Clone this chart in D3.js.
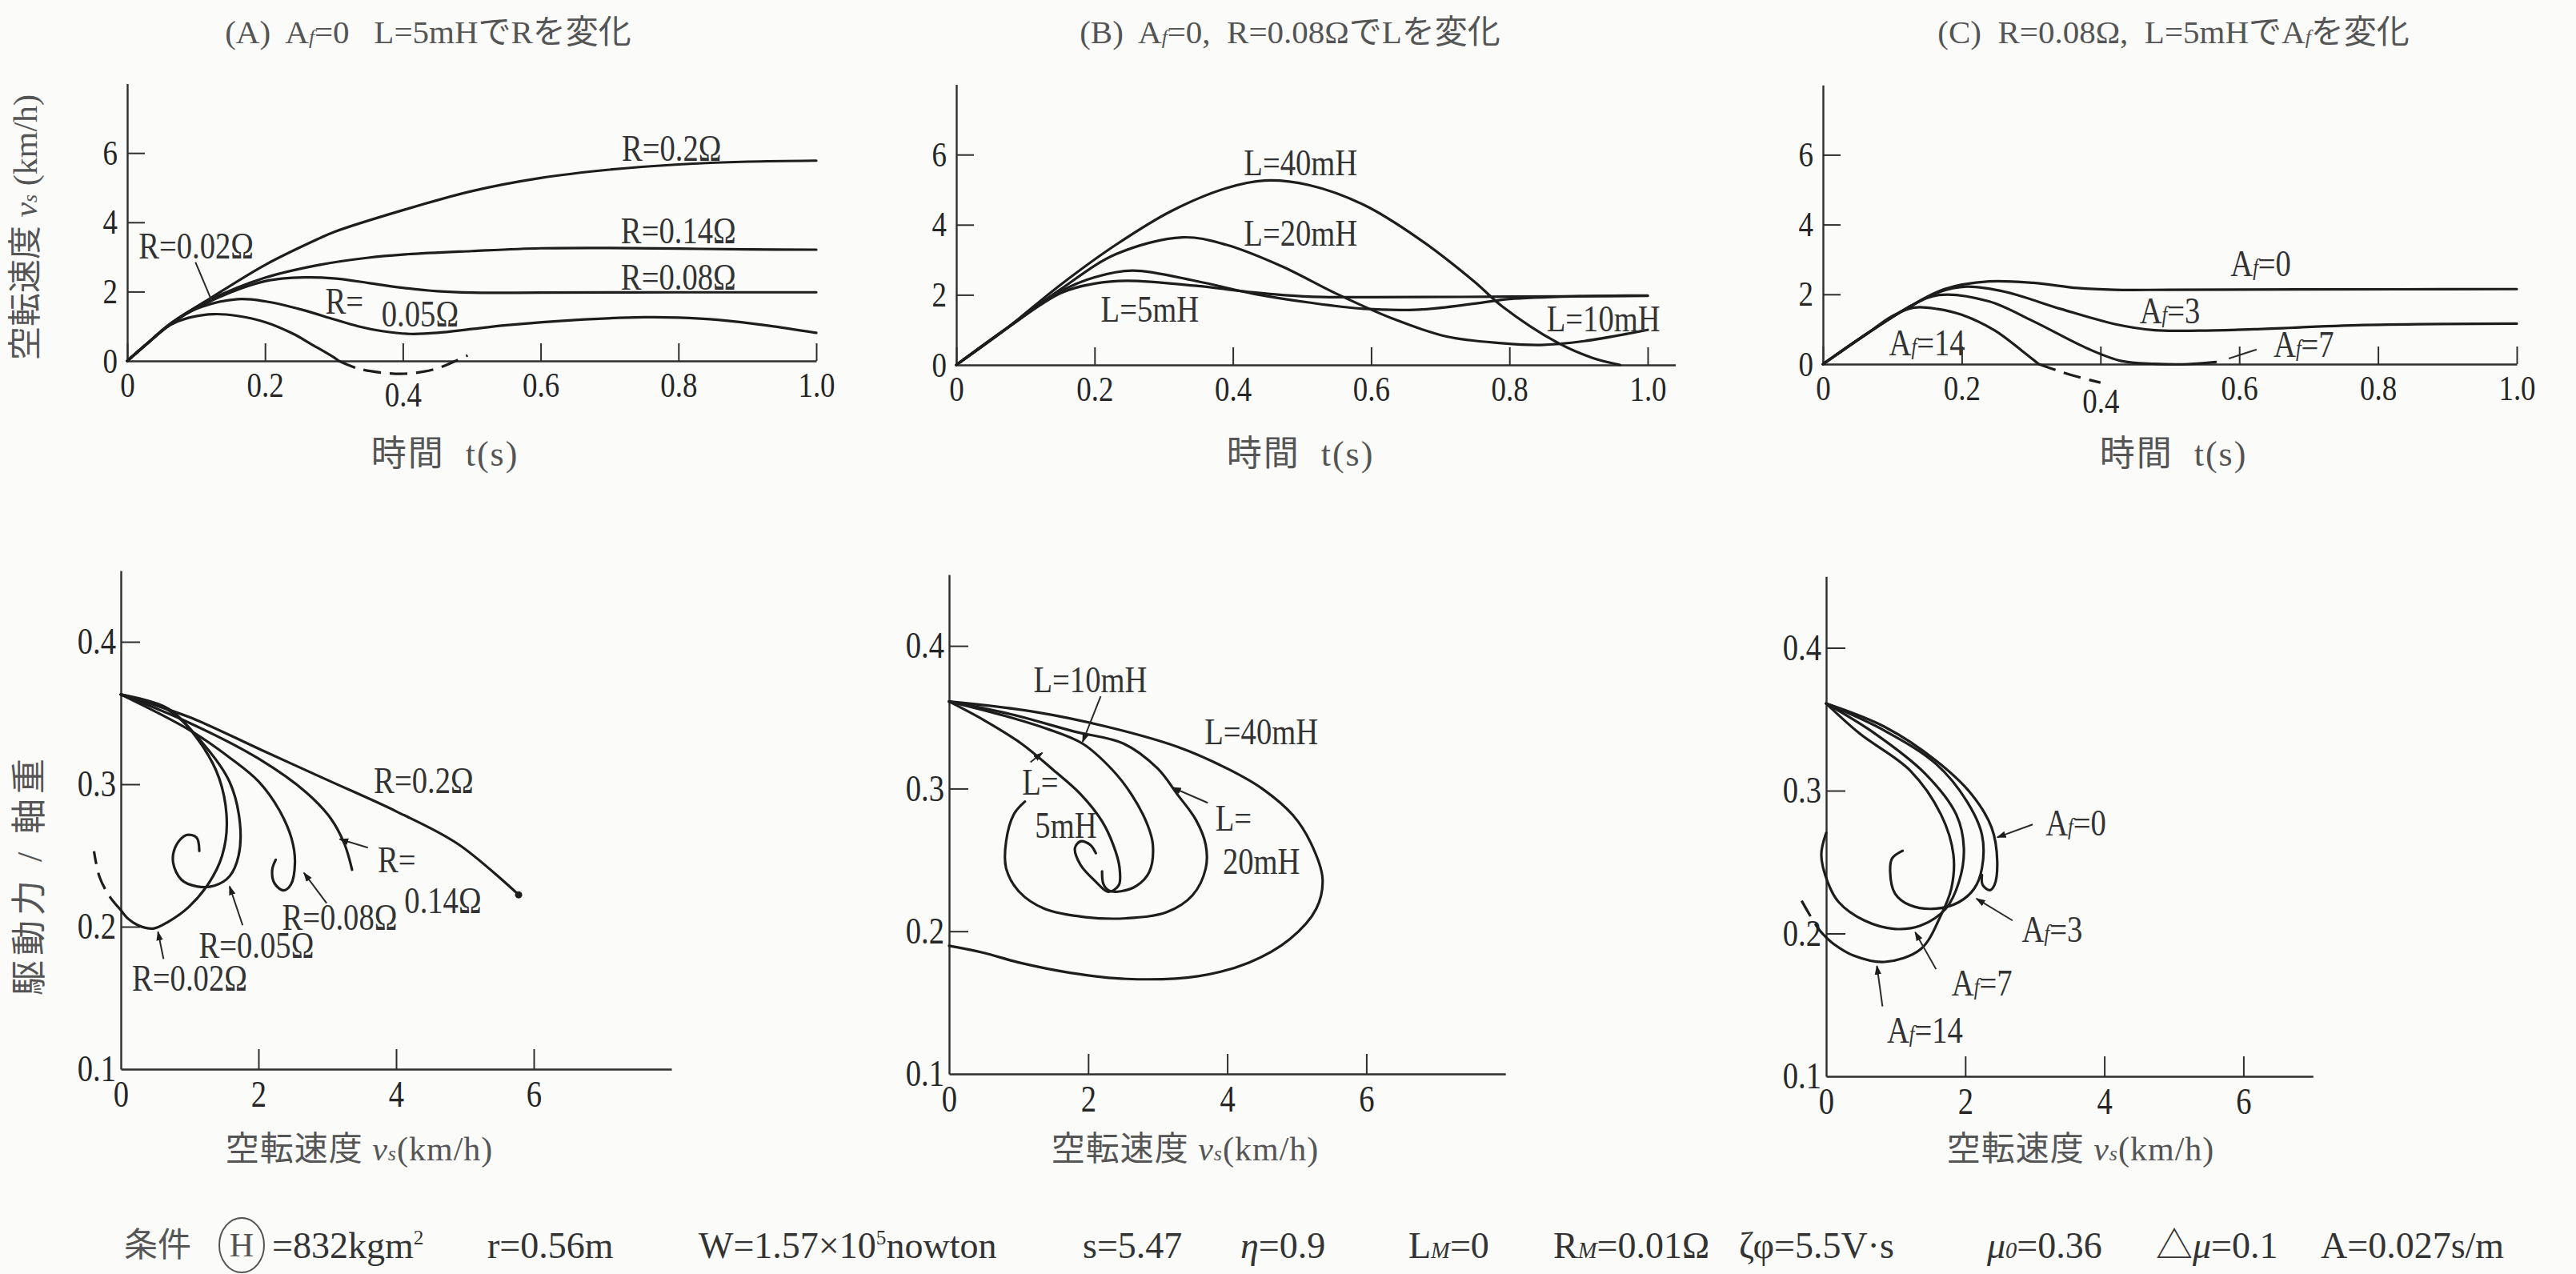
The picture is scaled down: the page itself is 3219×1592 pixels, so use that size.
<!DOCTYPE html>
<html><head><meta charset="utf-8">
<script src="https://cdn.jsdelivr.net/npm/d3@7"></script>
<style>
html,body{margin:0;padding:0;background:#fbfbfa;}
svg{display:block;}
text{white-space:pre;}
</style></head><body>
<svg id="fig" width="3219" height="1592"></svg>
<script>
// ---------- tick values ----------
const timeTicks  = [0, 0.2, 0.4, 0.6, 0.8, 1.0];
const speedTicks = [0, 2, 4, 6];
const forceTicks = [0.1, 0.2, 0.3, 0.4];
const slipTicks  = [0, 2, 4, 6];

// ---------- titles / axis names ----------
const panelTitles = [
  "(A)  A_{f}=0   L=5mHでRを変化",
  "(B)  A_{f}=0,  R=0.08ΩでLを変化",
  "(C)  R=0.08Ω,  L=5mHでA_{f}を変化"
];
const timeAxisName  = "時間  t(s)";
const speedAxisName = "空転速度 ~{v}_{s} (km/h)";
const slipAxisName  = "空転速度 ~{v}_{s}(km/h)";
const forceAxisName = "駆動力 / 軸重";

// ---------- (A) slip speed [km/h] vs time [s], resistance R varied ----------
const speedA_R020 = [[0,0],[0.03,0.52],[0.063,1.08],[0.12,1.8],[0.2,2.77],[0.278,3.53],[0.3,3.72],[0.4,4.35],[0.5,4.9],[0.6,5.28],[0.7,5.52],[0.8,5.67],[0.9,5.75],[1.0,5.78]];
const speedA_R014 = [[0,0],[0.03,0.52],[0.063,1.08],[0.12,1.76],[0.2,2.4],[0.278,2.77],[0.35,2.98],[0.4,3.07],[0.5,3.17],[0.6,3.25],[0.7,3.26],[0.8,3.24],[0.9,3.22],[1.0,3.21]];
const speedA_R008 = [[0,0],[0.03,0.52],[0.063,1.08],[0.12,1.72],[0.2,2.3],[0.26,2.41],[0.3,2.38],[0.35,2.25],[0.4,2.11],[0.45,2.01],[0.5,1.97],[0.6,1.97],[0.8,1.98],[1.0,1.98]];
const speedA_R005 = [[0,0],[0.03,0.52],[0.063,1.06],[0.1,1.5],[0.16,1.78],[0.2,1.72],[0.255,1.47],[0.3,1.2],[0.335,1.0],[0.37,0.86],[0.41,0.78],[0.45,0.81],[0.5,0.92],[0.55,1.03],[0.65,1.18],[0.75,1.26],[0.8,1.25],[0.86,1.18],[0.93,1.02],[1.0,0.81]];
const speedA_R002 = [[0,0],[0.03,0.52],[0.063,1.04],[0.09,1.25],[0.125,1.35],[0.16,1.3],[0.2,1.12],[0.24,0.79],[0.27,0.45],[0.3,0.1],[0.307,0]];
const speedA_R002_neg = [[0.307,0],[0.335,-0.22],[0.37,-0.34],[0.403,-0.37],[0.43,-0.31],[0.455,-0.18],[0.494,0.16]];
const labelsA = ["R=0.2Ω","R=0.14Ω","R=0.08Ω","R=","0.05Ω","R=0.02Ω"];

// ---------- (B) slip speed vs time, inductance L varied ----------
const speedB_L40 = [[0,0],[0.072,1.03],[0.151,2.29],[0.231,3.43],[0.311,4.39],[0.39,5.04],[0.446,5.26],[0.51,5.13],[0.59,4.56],[0.669,3.6],[0.749,2.38],[0.789,1.68],[0.869,0.64],[0.92,0.2],[0.96,0]];
const speedB_L20 = [[0,0],[0.072,1.03],[0.151,2.16],[0.231,3.16],[0.327,3.64],[0.39,3.43],[0.47,2.82],[0.55,2.03],[0.63,1.33],[0.709,0.81],[0.789,0.62],[0.845,0.57],[0.908,0.68],[1.0,1.0]];
const speedB_L10 = [[0,0],[0.072,1.03],[0.151,2.1],[0.2,2.5],[0.255,2.69],[0.35,2.38],[0.43,2.03],[0.51,1.78],[0.59,1.6],[0.67,1.58],[0.75,1.75],[0.8,1.88],[0.9,1.96],[1.0,1.98]];
const speedB_L05 = [[0,0],[0.072,1.03],[0.151,2.05],[0.2,2.32],[0.247,2.4],[0.35,2.25],[0.43,2.07],[0.51,1.95],[0.6,1.93],[0.8,1.95],[1.0,1.97]];
const labelsB = ["L=40mH","L=20mH","L=5mH","L=10mH"];

// ---------- (C) slip speed vs time, A_f varied ----------
const speedC_Af0  = [[0,0],[0.064,0.88],[0.127,1.67],[0.175,2.15],[0.239,2.37],[0.303,2.33],[0.367,2.18],[0.42,2.13],[0.5,2.13],[0.7,2.14],[1.0,2.15]];
const speedC_Af3  = [[0,0],[0.064,0.88],[0.127,1.67],[0.165,2.05],[0.207,2.22],[0.263,2.07],[0.343,1.58],[0.422,1.14],[0.478,0.97],[0.542,0.96],[0.622,1.0],[0.78,1.12],[1.0,1.16]];
const speedC_Af7  = [[0,0],[0.064,0.88],[0.127,1.67],[0.167,1.98],[0.239,1.8],[0.303,1.23],[0.382,0.44],[0.43,0.09],[0.478,0.01],[0.526,0.0],[0.566,0.06]];
const speedC_Af14 = [[0,0],[0.064,0.88],[0.1,1.38],[0.131,1.62],[0.165,1.58],[0.199,1.42],[0.247,0.97],[0.287,0.38],[0.311,0]];
const speedC_Af14_neg = [[0.311,0],[0.34,-0.2],[0.37,-0.38],[0.4,-0.53]];
const labelsC = ["A_{f}=0","A_{f}=3","A_{f}=7","A_{f}=14"];

// ---------- (D) force ratio vs slip speed, R varied ----------
const forceD_R020 = [[0,0.363],[1.0,0.347],[2.0,0.325],[3.0,0.303],[4.0,0.281],[4.9,0.258],[5.78,0.2224]];
const forceD_R014 = [[0,0.363],[1.0,0.343],[2.0,0.318],[2.7,0.294],[3.05,0.276],[3.25,0.258],[3.36,0.240]];
const forceD_R008 = [[0,0.363],[1.0,0.338],[1.6,0.318],[2.0,0.302],[2.3,0.282],[2.48,0.262],[2.53,0.245],[2.47,0.2295],[2.36,0.2255],[2.23,0.2307],[2.2,0.240],[2.25,0.247]];
const forceD_R005 = [[0,0.363],[0.69,0.352],[1.21,0.3277],[1.58,0.3017],[1.73,0.273],[1.71,0.2496],[1.58,0.2354],[1.36,0.2288],[1.10,0.2283],[0.88,0.233],[0.76,0.2449],[0.80,0.2567],[0.95,0.2643],[1.10,0.2626],[1.14,0.2532]];
const forceD_R002 = [[0,0.363],[0.69,0.353],[1.14,0.330],[1.43,0.304],[1.54,0.273],[1.47,0.2496],[1.28,0.2307],[0.99,0.214],[0.69,0.2035],[0.47,0.1987],[0.25,0.201],[0.1,0.2058],[0,0.2117]];
const forceD_R002_neg = [[0,0.2117],[-0.16,0.221],[-0.31,0.235],[-0.39,0.253]];
const labelsD = ["R=0.2Ω","R=","0.14Ω","R=0.08Ω","R=0.05Ω","R=0.02Ω"];

// ---------- (E) force ratio vs slip speed, L varied ----------
const forceE_L40 = [[0,0.361],[1.2,0.354],[2.3,0.343],[3.3,0.329],[4.0,0.314],[4.5,0.300],[4.95,0.281],[5.2,0.262],[5.37,0.237],[5.28,0.2158],[4.9,0.1945],[4.31,0.178],[3.58,0.1685],[2.55,0.1666],[1.74,0.1709],[1.01,0.178],[0.49,0.185],[0,0.1898]];
const forceE_L20 = [[0,0.361],[0.9,0.352],[1.8,0.340],[2.51,0.3315],[3.0,0.314],[3.28,0.2961],[3.55,0.278],[3.69,0.2606],[3.69,0.244],[3.5,0.2252],[3.13,0.2134],[2.55,0.2091],[1.96,0.2099],[1.37,0.2158],[1.01,0.2276],[0.82,0.2441],[0.82,0.263],[0.93,0.2819],[1.09,0.2909]];
const forceE_L10 = [[0,0.361],[0.8,0.351],[1.4,0.342],[1.92,0.3315],[2.35,0.313],[2.62,0.2961],[2.85,0.275],[2.93,0.2606],[2.88,0.2417],[2.7,0.232],[2.47,0.228],[2.3,0.2285],[2.22,0.233],[2.2,0.242]];
const forceE_L05 = [[0,0.361],[0.5,0.348],[1.04,0.3315],[1.5,0.313],[1.89,0.2961],[2.2,0.277],[2.36,0.2606],[2.45,0.245],[2.44,0.2323],[2.29,0.2276],[2.11,0.2347],[1.89,0.2465],[1.81,0.2583],[1.89,0.263],[2.03,0.2606],[2.11,0.2547]];
const labelsE = ["L=10mH","L=40mH","L=","5mH","L=","20mH"];

// ---------- (F) force ratio vs slip speed, A_f varied ----------
const forceF_Af0  = [[0,0.361],[0.84,0.3447],[1.58,0.321],[2.09,0.2975],[2.38,0.274],[2.46,0.2504],[2.42,0.234],[2.35,0.2303],[2.25,0.234],[2.24,0.241]];
const forceF_Af3  = [[0,0.361],[0.84,0.342],[1.58,0.3187],[2.02,0.2928],[2.24,0.2692],[2.24,0.2457],[2.13,0.2315],[1.91,0.222],[1.58,0.2174],[1.21,0.2197],[0.99,0.228],[0.92,0.2433],[0.95,0.2527],[1.10,0.2579]];
const forceF_Af7  = [[0,0.361],[0.70,0.340],[1.43,0.3116],[1.87,0.2834],[1.98,0.2598],[1.91,0.2362],[1.72,0.2174],[1.36,0.2056],[0.99,0.2032],[0.55,0.2091],[0.18,0.222],[0.02,0.2362],[-0.07,0.255],[0,0.2704]];
const forceF_Af14 = [[0,0.361],[0.48,0.340],[1.21,0.314],[1.65,0.2834],[1.83,0.2551],[1.80,0.2315],[1.65,0.2127],[1.36,0.1891],[0.84,0.1801],[0.40,0.1844],[0.11,0.1926],[0,0.1973]];
const forceF_Af14_neg = [[0,0.1973],[-0.11,0.2032],[-0.37,0.2244]];
const labelsF = ["A_{f}=0","A_{f}=3","A_{f}=7","A_{f}=14"];

// ---------- simulation conditions ----------
const conditionLabels = ["条件","H","=832kgm^{2}","r=0.56m","W=1.57×10^{5}nowton","s=5.47","~{η}=0.9","L_{M}=0","R_{M}=0.01Ω","ζφ=5.5V·s","~{μ}_{0}=0.36","△~{μ}=0.1","A=0.027s/m"];

// =====================================================================
const INK = "#1d1d1d", TXT = "#333", GREY = "#555";
const SERIF = "'Liberation Serif','Noto Sans CJK JP',serif";
const NARROW = 0.84;                       // horizontal squeeze of the digit face
const svg = d3.select("#fig");
svg.append("rect").attr("width",3219).attr("height",1592).attr("fill","#fbfbfa");

const defs = svg.append("defs");
defs.append("marker").attr("id","tip").attr("viewBox","0 0 10 10")
  .attr("refX",9).attr("refY",5).attr("markerWidth",6).attr("markerHeight",6)
  .attr("orient","auto").append("path").attr("d","M0,1.5L10,5L0,8.5z").attr("fill",INK);

// text with _{sub}, ^{sup} and ~{italic} markup
function rich(sel, str) {
  str.split(/(_\{[^}]*\}|\^\{[^}]*\}|~\{[^}]*\})/).filter(s => s.length).forEach(p => {
    const ts = sel.append("tspan");
    if (p.startsWith("_{")) ts.attr("baseline-shift","-22%").attr("font-size","62%").attr("font-style","italic").text(p.slice(2,-1));
    else if (p.startsWith("^{")) ts.attr("baseline-shift","40%").attr("font-size","55%").text(p.slice(2,-1));
    else if (p.startsWith("~{")) ts.attr("font-style","italic").text(p.slice(2,-1));
    else ts.text(p);
  });
  return sel;
}
function label(g, str, x, y, size, opt) {
  opt = opt || {};
  const t = g.append("text").attr("transform",`translate(${x},${y}) scale(${opt.sx || 1},1)`)
    .attr("font-family",SERIF).attr("font-size",size).attr("fill",opt.fill || TXT)
    .attr("text-anchor",opt.anchor || "middle").attr("dominant-baseline","central");
  if (opt.spacing) t.attr("letter-spacing",opt.spacing);
  return rich(t, str);
}
function styleAxis(g, size) {
  g.attr("font-family",SERIF).attr("font-size",size);
  g.select(".domain").attr("stroke","#2e2e2e").attr("stroke-width",2.4);
  g.selectAll(".tick line").attr("stroke","#2e2e2e").attr("stroke-width",2);
  g.selectAll(".tick text").attr("fill","#262626");
}
function squeeze(g, shiftY) {
  g.selectAll(".tick text").each(function() {
    const t = d3.select(this);
    const x = +t.attr("x") || 0, y = +t.attr("y") || 0;
    t.attr("x",null).attr("y",null).attr("transform",`translate(${x},${y + (shiftY || 0)}) scale(${NARROW},1)`);
  });
}
function drawCurves(g, x, y, solid, dashed) {
  const line = d3.line().x(d => x(d[0])).y(d => y(d[1])).curve(d3.curveCatmullRom.alpha(0.5));
  solid.forEach(s => g.append("path").attr("d",line(s)).attr("fill","none")
    .attr("stroke",INK).attr("stroke-width",3.2).attr("stroke-linejoin","round").attr("stroke-linecap","round"));
  dashed.forEach(s => g.append("path").attr("d",line(s)).attr("fill","none")
    .attr("stroke",INK).attr("stroke-width",3.2).attr("stroke-dasharray","22,11"));
}
function leader(g, x, y, a) {
  g.append("line").attr("x1",x(a[0])).attr("y1",y(a[1])).attr("x2",x(a[2])).attr("y2",y(a[3]))
    .attr("stroke","#2a2a2a").attr("stroke-width",2).attr("marker-end", a[4] === false ? null : "url(#tip)");
}

// ---------- upper row: slip speed vs time ----------
function timePanel(p) {
  const g = svg.append("g");
  const x = d3.scaleLinear().domain([0, p.tEnd]).range([p.left, p.left + p.tEnd * p.perSec]);
  const y = d3.scaleLinear().domain([0, 8]).range([p.base, p.base - 8 * p.perUnit]);
  const fmt = d => d === 0 ? "0" : d3.format(".1f")(d);
  const ax = g.append("g").attr("transform",`translate(0,${p.base})`)
    .call(d3.axisBottom(x).tickValues(timeTicks).tickSize(-22).tickSizeOuter(0).tickPadding(14).tickFormat(fmt));
  styleAxis(ax, 44);
  squeeze(ax);
  ax.selectAll(".tick").filter(d => d === 0.4).select("text").each(function() {
    const t = d3.select(this);
    t.attr("transform", t.attr("transform").replace(/translate\(([^,]+),([^)]+)\)/, (m, a, b) => `translate(${a},${+b + p.lowFour})`));
  });
  const ay = g.append("g").attr("transform",`translate(${p.left},0)`)
    .call(d3.axisLeft(y).tickValues(speedTicks).tickSize(-22).tickSizeOuter(0).tickPadding(12).tickFormat(d3.format("d")));
  styleAxis(ay, 44);
  squeeze(ay);
  ay.selectAll(".tick").filter(d => d === 0).select("line").remove();
  drawCurves(g, x, y, p.solid, p.dashed);
  p.labels.forEach((s, i) => label(g, s, x(p.at[i][0]), y(p.at[i][1]), 46, {sx:NARROW}));
  (p.leaders || []).forEach(a => leader(g, x, y, a));
  label(g, p.title, p.titleX, 40, 41, {fill:GREY});
  label(g, timeAxisName, p.nameX, 567, 44, {fill:GREY, spacing:2});
  return {x, y};
}

timePanel({left:159, perSec:861, tEnd:1.0, base:451, perUnit:43.3, lowFour:12,
  solid:[speedA_R020, speedA_R014, speedA_R008, speedA_R005, speedA_R002], dashed:[speedA_R002_neg],
  labels:labelsA, at:[[0.79,6.15],[0.80,3.78],[0.80,2.42],[0.315,1.74],[0.425,1.36],[0.10,3.34]],
  leaders:[[0.099,2.85,0.123,1.72,false]],
  title:panelTitles[0], titleX:535, nameX:556});

timePanel({left:1195, perSec:864, tEnd:1.04, base:456, perUnit:43.8, lowFour:0,
  solid:[speedB_L40, speedB_L20, speedB_L10, speedB_L05], dashed:[],
  labels:labelsB, at:[[0.498,5.78],[0.498,3.78],[0.28,1.60],[0.936,1.33]],
  title:panelTitles[1], titleX:1612, nameX:1625});

timePanel({left:2278, perSec:867, tEnd:1.0, base:455, perUnit:43.6, lowFour:16,
  solid:[speedC_Af0, speedC_Af3, speedC_Af7, speedC_Af14], dashed:[speedC_Af14_neg],
  labels:labelsC, at:[[0.631,2.90],[0.50,1.54],[0.693,0.57],[0.15,0.62]],
  leaders:[[0.585,0.16,0.625,0.42,false]],
  title:panelTitles[2], titleX:2716, nameX:2716});

// shared name of the upper vertical axis
label(svg.append("g").attr("transform","translate(32,284) rotate(-90)"), speedAxisName, 0, 0, 42, {fill:GREY});

// ---------- lower row: force ratio vs slip speed ----------
function phasePanel(p) {
  const g = svg.append("g");
  const x = d3.scaleLinear().domain([0, p.vEnd]).range([p.left, p.left + p.vEnd * p.perUnit]);
  const y = d3.scaleLinear().domain([0.1, 0.45]).range([p.base, p.base - 3.5 * p.perTenth]);
  const ax = g.append("g").attr("transform",`translate(0,${p.base})`)
    .call(d3.axisBottom(x).tickValues(slipTicks).tickSize(-25).tickSizeOuter(0).tickPadding(14).tickFormat(d3.format("d")));
  styleAxis(ax, 46);
  squeeze(ax);
  ax.selectAll(".tick").filter(d => d === 0).select("line").remove();
  const ay = g.append("g").attr("transform",`translate(${p.left},0)`)
    .call(d3.axisLeft(y).tickValues(forceTicks).tickSize(-24).tickSizeOuter(0).tickPadding(6).tickFormat(d3.format(".1f")));
  styleAxis(ay, 46);
  squeeze(ay);
  ay.selectAll(".tick").filter(d => d === 0.1).select("line").remove();
  drawCurves(g, x, y, p.solid, p.dashed);
  (p.leaders || []).forEach(a => leader(g, x, y, a));
  p.labels.forEach((s, i) => label(g, s, x(p.at[i][0]), y(p.at[i][1]), 46, {sx:NARROW}));
  if (p.endDot) g.append("circle").attr("cx",x(p.endDot[0])).attr("cy",y(p.endDot[1])).attr("r",4.5).attr("fill",INK);
  label(g, slipAxisName, p.nameX, 1436, 42, {fill:GREY, spacing:1});
}

phasePanel({left:151, perUnit:86, vEnd:8, base:1336, perTenth:178,
  solid:[forceD_R020, forceD_R014, forceD_R008, forceD_R005, forceD_R002], dashed:[forceD_R002_neg],
  labels:labelsD, at:[[4.40,0.303],[4.01,0.2475],[4.68,0.2185],[3.18,0.207],[1.97,0.187],[1.0,0.1644]],
  leaders:[[3.59,0.2555,3.18,0.2615],[2.99,0.2165,2.66,0.2378],[1.77,0.201,1.58,0.2283],[0.62,0.1774,0.54,0.1964]],
  endDot:forceD_R020[forceD_R020.length-1], nameX:449});

phasePanel({left:1186, perUnit:86.9, vEnd:8, base:1342, perTenth:178.3,
  solid:[forceE_L40, forceE_L20, forceE_L10, forceE_L05], dashed:[],
  labels:labelsE, at:[[2.03,0.3764],[4.49,0.340],[1.31,0.305],[1.68,0.2745],[4.09,0.2795],[4.49,0.2495]],
  leaders:[[2.18,0.3646,1.92,0.3327],[1.17,0.3185,1.34,0.325],[3.72,0.290,3.21,0.3008]],
  nameX:1481});

phasePanel({left:2282, perUnit:86.9, vEnd:7, base:1345, perTenth:178.5,
  solid:[forceF_Af0, forceF_Af3, forceF_Af7, forceF_Af14], dashed:[forceF_Af14_neg],
  labels:labelsF, at:[[3.59,0.2775],[3.25,0.2032],[2.24,0.1655],[1.42,0.1325]],
  leaders:[[2.97,0.2763,2.46,0.2673],[2.68,0.2091,2.16,0.2244],[1.58,0.175,1.28,0.2009],[0.81,0.149,0.73,0.1773]],
  nameX:2600});

label(svg.append("g").attr("transform","translate(37,1093) rotate(-90)"), forceAxisName, 0, 0, 44, {fill:GREY, spacing:6});

// ---------- conditions line ----------
const condX = [155, 302, 340, 609, 873, 1353, 1550, 1760, 1941, 2173, 2483, 2694, 2900];
const cond = svg.append("g");
conditionLabels.forEach((s, i) => {
  if (i === 1) {
    cond.append("ellipse").attr("cx",condX[i]).attr("cy",1556).attr("rx",28).attr("ry",34)
      .attr("fill","none").attr("stroke",GREY).attr("stroke-width",2);
    label(cond, s, condX[i], 1556, 42, {fill:GREY});
  } else {
    label(cond, s, condX[i], 1556, i === 0 ? 42 : 46, {anchor:"start", fill:i === 0 ? GREY : TXT});
  }
});
</script>
</body></html>
